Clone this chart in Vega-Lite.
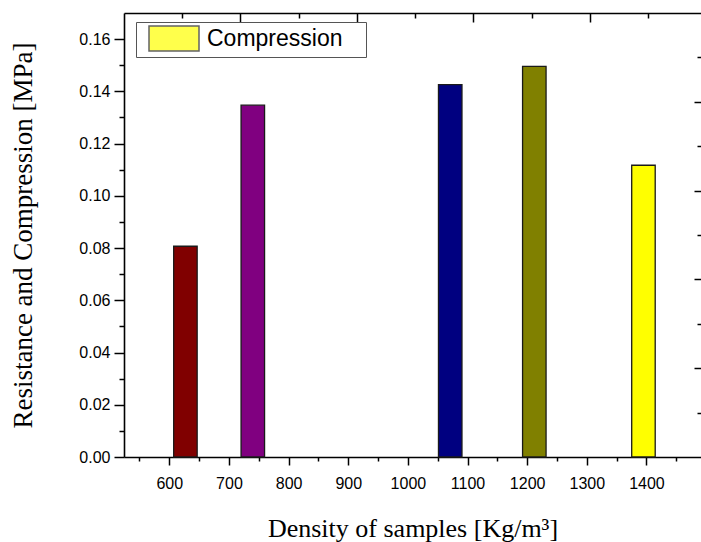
{
  "$schema": "https://vega.github.io/schema/vega-lite/v6.json",
  "width": 577,
  "height": 444,
  "autosize": "none",
  "padding": {"left": 124, "top": 13, "right": 0, "bottom": 85},
  "background": "white",
  "config": {
    "view": {"stroke": null},
    "axis": {
      "grid": false,
      "domainColor": "#000000",
      "domainWidth": 1.6,
      "tickColor": "#000000",
      "tickWidth": 1.5,
      "labelFont": "Liberation Sans",
      "labelFontSize": 16,
      "labelColor": "#000000",
      "titleFont": "Liberation Serif",
      "titleFontSize": 26,
      "titleFontWeight": "normal",
      "titleColor": "#000000"
    }
  },
  "data": {
    "values": [
      {"density": 627, "value": 0.0807, "series": "Compression"},
      {"density": 740, "value": 0.1347, "series": "Compression"},
      {"density": 1071, "value": 0.1426, "series": "Compression"},
      {"density": 1212, "value": 0.1496, "series": "Compression"},
      {"density": 1395, "value": 0.1117, "series": "Compression"}
    ]
  },
  "layer": [
    {
      "mark": {"type": "bar", "width": 23.5, "stroke": "#1a1a1a", "strokeWidth": 1.3},
      "encoding": {
        "x": {
          "field": "density",
          "type": "quantitative",
          "scale": {"domain": [532.4, 1483.1], "nice": false, "zero": false},
          "axis": {
            "orient": "bottom",
            "title": "Density of samples [Kg/m³]",
            "titlePadding": 24,
            "values": [550, 600, 650, 700, 750, 800, 850, 900, 950, 1000, 1050, 1100, 1150, 1200, 1250, 1300, 1350, 1400, 1450],
            "labelExpr": "datum.value % 100 === 0 ? datum.label : ''",
            "format": "d",
            "tickSize": {"condition": {"test": "datum.value % 100 === 0", "value": 8}, "value": 4},
            "labelPadding": 10,
            "labelFlush": false,
            "labelOverlap": false
          }
        },
        "y": {
          "field": "value",
          "type": "quantitative",
          "scale": {"domain": [0, 0.17], "nice": false},
          "axis": {
            "orient": "left",
            "title": "Resistance and Compression [MPa]",
            "titleFontSize": 27,
            "titlePadding": 41,
            "values": [0, 0.01, 0.02, 0.03, 0.04, 0.05, 0.06, 0.07, 0.08, 0.09, 0.1, 0.11, 0.12, 0.13, 0.14, 0.15, 0.16],
            "labelExpr": "round(datum.value * 100) % 2 === 0 ? format(datum.value, '.2f') : ''",
            "tickSize": {"condition": {"test": "round(datum.value * 100) % 2 === 0", "value": 10}, "value": 5},
            "labelPadding": 4,
            "labelOverlap": false,
            "labelFlush": false
          }
        },
        "fill": {
          "field": "density",
          "type": "nominal",
          "scale": {"domain": [627, 740, 1071, 1212, 1395], "range": ["#800000", "#800080", "#000080", "#808000", "#FFFF00"]},
          "legend": null
        }
      }
    },
    {
      "mark": {"type": "point", "filled": true, "size": 0},
      "encoding": {
        "x": {
          "datum": 0,
          "type": "quantitative",
          "scale": {"domain": [0, 4.953], "nice": false, "zero": false},
          "axis": {
            "orient": "top",
            "title": null,
            "labels": false,
            "values": [0.5, 1, 1.5, 2, 2.5, 3, 3.5, 4, 4.5],
            "tickSize": {"condition": {"test": "datum.value % 1 === 0", "value": -9}, "value": -5}
          }
        },
        "y": {
          "datum": 0,
          "type": "quantitative",
          "scale": {"domain": [0, 5], "nice": false},
          "axis": {
            "orient": "right",
            "title": null,
            "labels": false,
            "domain": false,
            "values": [0.5, 1, 1.5, 2, 2.5, 3, 3.5, 4, 4.5],
            "tickSize": {"condition": {"test": "datum.value % 1 === 0", "value": -7}, "value": -4}
          }
        },
        "color": {
          "field": "series",
          "type": "nominal",
          "scale": {"range": ["#FFFF00"]},
          "legend": {
            "orient": "none",
            "legendX": 12,
            "legendY": 9,
            "title": ".",
            "titleOrient": "right",
            "titlePadding": 18,
            "titleFontSize": 8,
            "titleColor": "#FFFFFF",
            "padding": 3,
            "fillColor": "#FFFFFF",
            "strokeColor": "#555555",
            "symbolType": "M-1,-1H3V1H-1Z",
            "symbolSize": 625,
            "symbolStrokeColor": "#222222",
            "symbolOffset": 9,
            "labelOffset": 32,
            "labelFont": "Liberation Sans",
            "labelFontSize": 23,
            "labelColor": "#000000",
            "labelLimit": 300
          }
        }
      }
    }
  ],
  "resolve": {
    "scale": {"x": "independent", "y": "independent"},
    "axis": {"x": "independent", "y": "independent"}
  }
}
